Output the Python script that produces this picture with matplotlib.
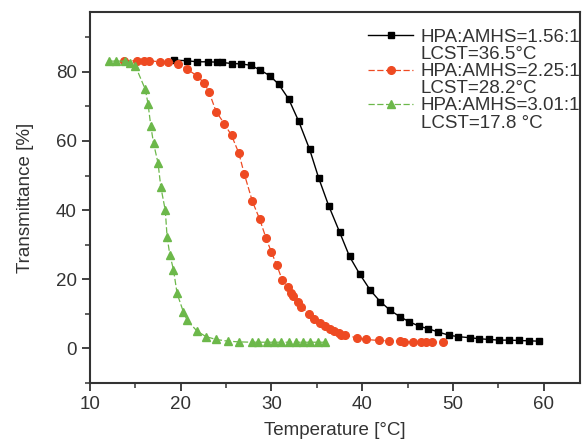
import matplotlib
matplotlib.use("Agg")
import matplotlib.pyplot as plt
from matplotlib.lines import Line2D
from matplotlib.ticker import MultipleLocator

plt.rcParams['font.family'] = ['Liberation Sans', 'DejaVu Sans']

# HPA:AMHS = 1.56:1
temp_156 = [19.3, 20.7, 21.8, 23.0, 24.0, 24.6, 25.6, 26.6, 27.7, 28.7, 29.8,
            30.8, 31.9, 33.0, 34.2, 35.2, 36.3, 37.5, 38.6, 39.7, 40.9, 42.0,
            43.1, 44.2, 45.2, 46.3, 47.3, 48.3, 49.6, 50.6, 51.9, 52.9, 54.0,
            55.1, 56.2, 57.3, 58.4, 59.5]
trans_156 = [83.4, 83.2, 82.9, 82.9, 82.8, 82.7, 82.4, 82.3, 81.9, 80.6, 78.9,
             76.4, 72.1, 65.7, 57.6, 49.3, 41.3, 33.7, 26.6, 21.6, 16.8, 13.5,
             11.0, 9.1, 7.7, 6.4, 5.7, 4.8, 3.8, 3.4, 3.1, 2.8, 2.6,
             2.4, 2.4, 2.3, 2.2, 2.1]

# HPA:AMHS = 2.25:1
temp_225 = [13.7, 15.2, 15.9, 16.5, 17.7, 18.6, 19.7, 20.7, 21.8, 22.6, 23.1,
            23.9, 24.8, 25.6, 26.4, 27.0, 27.9, 28.7, 29.4, 30.0, 30.6, 31.2,
            31.8, 32.2, 32.4, 32.9, 33.3, 34.1, 34.7, 35.3, 35.9, 36.4, 36.9,
            37.4, 37.7, 38.1, 39.4, 40.4, 41.8, 43.0, 44.2, 44.6, 45.6, 46.5,
            47.0, 47.7, 48.9]
trans_225 = [83.2, 83.2, 83.2, 83.2, 82.9, 82.9, 82.4, 80.8, 78.8, 76.7, 74.3,
             68.5, 65.0, 61.6, 56.5, 50.5, 42.5, 37.4, 31.9, 27.8, 24.0, 19.7,
             17.8, 15.9, 15.1, 13.4, 12.0, 10.1, 8.6, 7.4, 6.6, 5.7, 5.0,
             4.5, 4.0, 3.8, 3.1, 2.6, 2.3, 2.2, 2.1, 2.0, 1.9, 1.8,
             1.8, 1.8, 1.8]

# HPA:AMHS = 3.01:1
temp_301 = [12.1, 12.9, 13.9, 14.4, 15.0, 16.1, 16.4, 16.7, 17.0, 17.5, 17.8,
            18.3, 18.5, 18.8, 19.2, 19.6, 20.3, 20.7, 21.8, 22.8, 23.9, 25.2,
            26.4, 27.8, 28.5, 29.5, 30.3, 31.1, 31.9, 32.7, 33.5, 34.3, 35.1,
            35.9]
trans_301 = [83.1, 83.1, 83.1, 82.6, 81.7, 74.9, 70.7, 64.4, 59.4, 53.6, 46.8,
             39.9, 32.2, 27.1, 22.8, 15.9, 10.5, 8.2, 5.0, 3.4, 2.6, 2.1,
             1.9, 1.8, 1.8, 1.8, 1.8, 1.8, 1.8, 1.8, 1.8, 1.8, 1.8,
             1.8]

ratios = ['HPA:AMHS=1.56:1', 'HPA:AMHS=2.25:1', 'HPA:AMHS=3.01:1']
lcst = ['LCST=36.5\u00b0C', 'LCST=28.2\u00b0C', 'LCST=17.8 \u00b0C']

text_col = '#333333'
fs = 13.5

fig = plt.figure(figsize=(5.82, 4.43), dpi=100)
ax = fig.add_axes([0.1546, 0.1354, 0.842, 0.8375])

h1, = ax.plot(temp_156, trans_156, '-', color='black', lw=1.0, marker='s', ms=5)
h2, = ax.plot(temp_225, trans_225, '--', color='#ee4a22', lw=0.9, marker='o',
              ms=5.5, dashes=(5, 2))
h3, = ax.plot(temp_301, trans_301, '--', color='#6cb84a', lw=0.9, marker='^',
              ms=6, dashes=(5, 2))

ax.set_xlim(10, 64)
ax.set_ylim(-10, 97.3)
ax.xaxis.set_major_locator(MultipleLocator(10))
ax.xaxis.set_minor_locator(MultipleLocator(5))
ax.yaxis.set_major_locator(MultipleLocator(20))
ax.yaxis.set_minor_locator(MultipleLocator(10))
ax.tick_params(which='major', direction='out', length=6, width=1.3,
               labelsize=fs, labelcolor=text_col, color='#333333')
ax.tick_params(which='minor', direction='out', length=3.5, width=1.1,
               color='#333333')
for side in ax.spines.values():
    side.set_linewidth(1.5)
    side.set_color('#333333')

ax.set_xlabel('Temperature [\u00b0C]', fontsize=fs, color=text_col, labelpad=6)
ax.set_ylabel('Transmittance [%]', fontsize=fs, color=text_col, labelpad=16)

# second label line sits under the first, with no handle of its own
blank = Line2D([], [], linestyle='none', marker='none')
handles = [h1, blank, h2, blank, h3, blank]
names = [ratios[0], lcst[0], ratios[1], lcst[1], ratios[2], lcst[2]]
leg = ax.legend(handles, names, loc='upper right', frameon=False, fontsize=fs,
                handlelength=2.4, handletextpad=0.4, labelspacing=0.0,
                borderaxespad=0.0, bbox_to_anchor=(1.016, 0.975))
for t in leg.get_texts():
    t.set_color(text_col)

plt.savefig('out.png', dpi=100)
